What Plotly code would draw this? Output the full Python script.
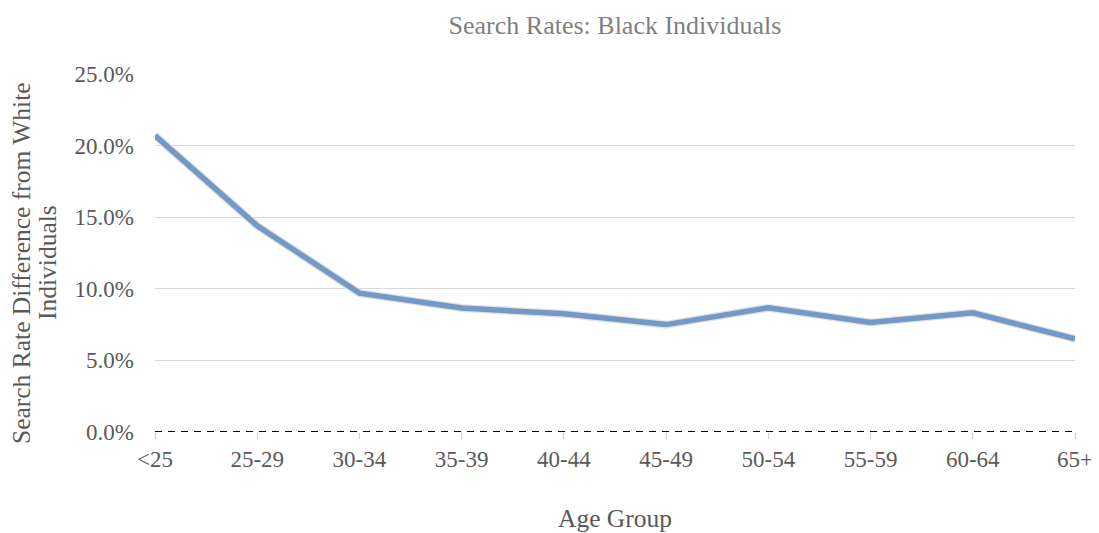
import plotly.graph_objects as go

age_groups = ["<25", "25-29", "30-34", "35-39", "40-44", "45-49", "50-54", "55-59", "60-64", "65+"]
search_rate_diff = [0.207, 0.144, 0.097, 0.0866, 0.0825, 0.075, 0.0868, 0.0765, 0.0832, 0.065]
y_ticks = [0, 0.05, 0.10, 0.15, 0.20, 0.25]
y_title_lines = ["Search Rate Difference from White", "Individuals"]

FONT = "Liberation Serif, Times New Roman, serif"
PLOT_LEFT, PLOT_W = 155, 920

fig = go.Figure()
fig.add_trace(go.Scatter(
    x=age_groups, y=search_rate_diff, mode="lines",
    line=dict(color="#e2e2e2", width=8),
    hoverinfo="skip", showlegend=False,
))
fig.add_trace(go.Scatter(
    x=age_groups, y=search_rate_diff, mode="lines",
    line=dict(color="#7399c6", width=5.5),
    showlegend=False,
))

fig.add_shape(type="line", xref="paper", yref="y", x0=0, x1=1, y0=0, y1=0,
              line=dict(color="black", width=2, dash="7px,6px"), layer="above")

for px, line_text in zip([21, 47], y_title_lines):
    fig.add_annotation(
        text=line_text, xref="paper", yref="paper",
        x=(px - PLOT_LEFT) / PLOT_W, y=0.472, xanchor="center", yanchor="middle",
        textangle=-90, showarrow=False,
        font=dict(family=FONT, size=25.5, color="#595959"),
    )

fig.update_layout(
    width=1091, height=525,
    margin=dict(l=147, r=24, t=66, b=101, autoexpand=False),
    paper_bgcolor="white", plot_bgcolor="white",
    font=dict(family=FONT, size=23, color="#595959"),
    title=dict(text="Search Rates: Black Individuals", x=0.5, xref="paper", xanchor="center",
               y=0.968, yanchor="middle", font=dict(family=FONT, size=26, color="#7f7f7f")),
    xaxis=dict(
        type="category", range=[0, 9], showgrid=False, zeroline=False,
        ticks="outside", ticklen=6, tickcolor="#d0d0d0", tickwidth=1.3,
        tickfont=dict(family=FONT, size=23, color="#595959"),
        title=dict(text="Age Group", font=dict(family=FONT, size=25.5, color="#595959"), standoff=38),
        automargin=False,
    ),
    yaxis=dict(
        range=[0, 0.25], tickvals=y_ticks, tickformat=".1%",
        showgrid=True, gridcolor="#d9d9d9", gridwidth=1.3, zeroline=False,
        ticks="", ticklabelstandoff=20,
        tickfont=dict(family=FONT, size=23, color="#595959"),
        automargin=False,
    ),
)

fig.write_html("out.html")
